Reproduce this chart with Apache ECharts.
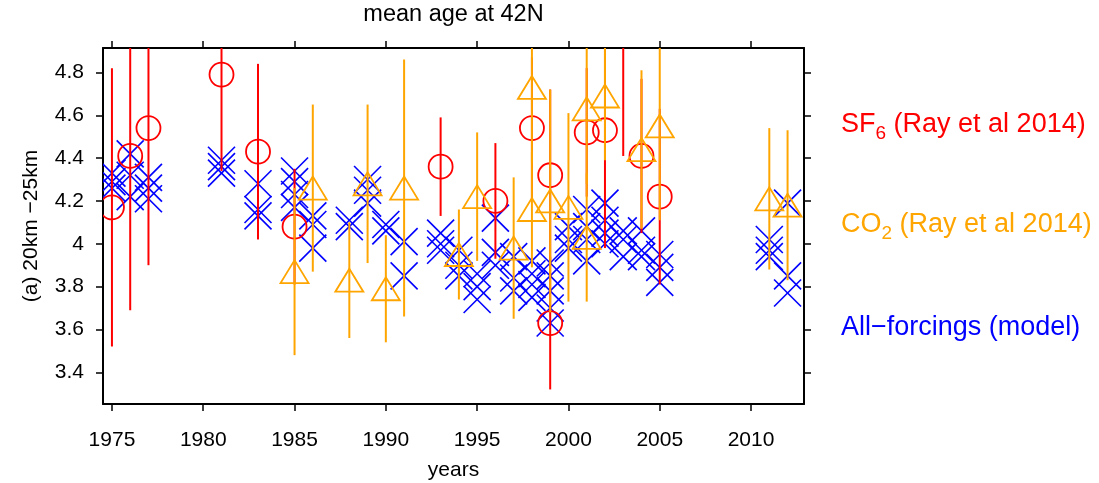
<!DOCTYPE html>
<html>
<head>
<meta charset="utf-8">
<script src="https://cdn.jsdelivr.net/npm/echarts@6/dist/echarts.min.js"></script>
<style>
  html, body { margin: 0; padding: 0; background: #fff; }
  #main { width: 1099px; height: 483px; }
</style>
</head>
<body>
<div id="main"></div>
<script>
// SF6 (Ray et al 2014): year, mean age, half error bar
const sf6Year = [1975, 1976, 1977, 1981, 1983, 1985, 1993, 1996, 1998, 1999, 1999, 2001, 2002, 2003, 2004, 2005];
const sf6Age  = [4.17, 4.41, 4.54, 4.79, 4.43, 4.08, 4.36, 4.20, 4.54, 4.32, 3.63, 4.52, 4.53, 4.97, 4.41, 4.22];
const sf6Err  = [0.65, 0.72, 0.64, 0.45, 0.41, 0.27, 0.23, 0.27, 0.33, 0.40, 0.31, 0.30, 0.55, 0.56, 0.36, 0.41];

// CO2 (Ray et al 2014)
const co2Year = [1985, 1986, 1988, 1989, 1990, 1991, 1994, 1995, 1997, 1998, 1998, 1999, 2000, 2001, 2001, 2002, 2004, 2005, 2011, 2012];
const co2Age  = [3.87, 4.26, 3.83, 4.28, 3.79, 4.26, 3.95, 4.22, 3.98, 4.73, 4.16, 4.20, 4.17, 4.63, 4.03, 4.69, 4.44, 4.55, 4.21, 4.18];
const co2Err  = [0.39, 0.39, 0.27, 0.37, 0.25, 0.60, 0.21, 0.30, 0.33, 0.35, 0.27, 0.52, 0.44, 0.35, 0.30, 0.30, 0.37, 0.44, 0.33, 0.35];

// All-forcings model members, one list per year
const modelYear = [1975, 1976, 1977, 1981, 1983, 1985, 1986, 1988, 1989, 1990, 1991, 1993, 1994,
                   1995, 1996, 1997, 1998, 1999, 2000, 2001, 2002, 2003, 2004, 2005, 2011, 2012];
const modelAge = [
  [4.33, 4.29, 4.26],
  [4.42, 4.32, 4.22],
  [4.31, 4.26, 4.21],
  [4.39, 4.36, 4.33],
  [4.28, 4.16, 4.13],
  [4.34, 4.29, 4.23, 4.17],
  [4.13, 4.09, 3.98],
  [4.11, 4.08],
  [4.30, 4.25, 4.19],
  [4.09, 4.06],
  [4.01, 3.85],
  [4.05, 4.00, 3.97],
  [3.97, 3.90, 3.85],
  [3.86, 3.80, 3.74],
  [4.12, 3.96, 3.90],
  [3.94, 3.84, 3.78],
  [3.92, 3.86, 3.81, 3.75],
  [3.91, 3.85, 3.78, 3.70, 3.63],
  [4.08, 4.02, 3.98],
  [4.16, 4.08, 4.02, 3.92],
  [4.19, 4.11, 4.05, 4.00],
  [4.06, 4.02, 3.94],
  [4.06, 3.97, 3.94],
  [3.95, 3.89, 3.82],
  [4.02, 3.97, 3.94],
  [4.19, 3.85, 3.77]
];

const xTicks = [1975, 1980, 1985, 1990, 1995, 2000, 2005, 2010];
const yTicks = [3.4, 3.6, 3.8, 4, 4.2, 4.4, 4.6, 4.8];

const RED = '#ff0000', ORANGE = '#ffa500', BLUE = '#0000ff';
const FONT = '"Liberation Sans", Arial, sans-serif';

const modelData = [];
modelYear.forEach((y, i) => modelAge[i].forEach(v => modelData.push([y, v])));
const sf6Data = sf6Year.map((y, i) => [y, sf6Age[i], sf6Age[i] - sf6Err[i], sf6Age[i] + sf6Err[i]]);
const co2Data = co2Year.map((y, i) => [y, co2Age[i], co2Age[i] - co2Err[i], co2Age[i] + co2Err[i]]);

function errBar(color, width) {
  return function (params, api) {
    const r = params.coordSys;
    const p1 = api.coord([api.value(0), api.value(2)]);
    const p2 = api.coord([api.value(0), api.value(3)]);
    const top = Math.max(r.y, Math.min(p1[1], p2[1]));
    const bot = Math.min(r.y + r.height, Math.max(p1[1], p2[1]));
    if (bot <= top) return null;
    return {
      type: 'line',
      shape: { x1: p1[0], y1: top, x2: p1[0], y2: bot },
      style: { stroke: color, lineWidth: width }
    };
  };
}

function inside(params, p) {
  const r = params.coordSys;
  return p[1] >= r.y - 2 && p[1] <= r.y + r.height + 2;
}

function crossMark(params, api) {
  const p = api.coord([api.value(0), api.value(1)]);
  const h = 13.5;
  return {
    type: 'group',
    children: [
      { type: 'line', shape: { x1: p[0] - h, y1: p[1] - h, x2: p[0] + h, y2: p[1] + h }, style: { stroke: BLUE, lineWidth: 1.6 } },
      { type: 'line', shape: { x1: p[0] - h, y1: p[1] + h, x2: p[0] + h, y2: p[1] - h }, style: { stroke: BLUE, lineWidth: 1.6 } }
    ]
  };
}

function circleMark(params, api) {
  const p = api.coord([api.value(0), api.value(1)]);
  if (!inside(params, p)) return null;
  return {
    type: 'circle',
    shape: { cx: p[0], cy: p[1], r: 12 },
    style: { fill: 'none', stroke: RED, lineWidth: 1.8 }
  };
}

function triangleMark(params, api) {
  const p = api.coord([api.value(0), api.value(1)]);
  if (!inside(params, p)) return null;
  return {
    type: 'polygon',
    shape: { points: [[p[0], p[1] - 11.5], [p[0] - 14, p[1] + 11.5], [p[0] + 14, p[1] + 11.5]] },
    style: { fill: 'none', stroke: ORANGE, lineWidth: 1.8 }
  };
}

// legend texts with subscripts, placed by measured width
const ctx = document.createElement('canvas').getContext('2d');
function legendText(x, y, parts, color) {
  const out = [];
  let cx = x;
  parts.forEach(([t, sub]) => {
    const size = sub ? 19 : 27;
    ctx.font = size + 'px ' + FONT;
    out.push({
      type: 'text', x: cx, y: sub ? y + 9 : y,
      style: { text: t, fill: color, font: size + 'px ' + FONT, textVerticalAlign: 'middle' }
    });
    cx += ctx.measureText(t).width;
  });
  return out;
}

const chart = echarts.init(document.getElementById('main'));

const xCommon = {
  type: 'value', min: 1974.51, max: 2012.9,
  axisLine: { show: true, onZero: false, lineStyle: { color: '#000', width: 2 } },
  axisTick: { show: true, inside: false, length: 7, customValues: xTicks, lineStyle: { color: '#000', width: 1.5 } },
  splitLine: { show: false }
};
const yCommon = {
  type: 'value', min: 3.252, max: 4.914,
  axisLine: { show: true, onZero: false, lineStyle: { color: '#000', width: 2 } },
  axisTick: { show: true, inside: false, length: 7, customValues: yTicks, lineStyle: { color: '#000', width: 1.5 } },
  splitLine: { show: false }
};

chart.setOption({
  animation: false,
  grid: { left: 103, top: 48, right: 295, bottom: 79, containLabel: false, outerBoundsMode: 'none' },
  xAxis: [
    Object.assign({}, xCommon, {
      position: 'bottom',
      name: 'years', nameLocation: 'middle', nameGap: 56,
      nameTextStyle: { fontFamily: FONT, fontSize: 21, color: '#000' },
      axisLabel: { customValues: xTicks, margin: 26, fontFamily: FONT, fontSize: 21, color: '#000',
        formatter: v => String(Math.round(v)) }
    }),
    Object.assign({}, xCommon, { position: 'top', axisLabel: { show: false } })
  ],
  yAxis: [
    Object.assign({}, yCommon, {
      position: 'left',
      name: '(a) 20km \u221225km', nameLocation: 'middle', nameGap: 61,
      nameTextStyle: { fontFamily: FONT, fontSize: 21, color: '#000' },
      axisLabel: { customValues: yTicks, margin: 19, fontFamily: FONT, fontSize: 21, color: '#000',
        formatter: v => String(+v.toFixed(1)) }
    }),
    Object.assign({}, yCommon, { position: 'right', axisLabel: { show: false } })
  ],
  graphic: [
    { type: 'text', x: 453.5, y: 15,
      style: { text: 'mean age at 42N', fill: '#000', font: '23.5px ' + FONT, textAlign: 'center', textVerticalAlign: 'middle' } }
  ].concat(
    legendText(841, 125, [['SF', false], ['6', true], [' (Ray et al 2014)', false]], RED),
    legendText(841, 225, [['CO', false], ['2', true], [' (Ray et al 2014)', false]], ORANGE),
    legendText(841, 328, [['All\u2212forcings (model)', false]], BLUE)
  ),
  series: [
    { name: 'model', type: 'custom', renderItem: crossMark, data: modelData, clip: true, z: 2 },
    { name: 'sf6 err', type: 'custom', renderItem: errBar(RED, 2), data: sf6Data, clip: true, z: 3 },
    { name: 'sf6', type: 'custom', renderItem: circleMark, data: sf6Data, clip: true, z: 3 },
    { name: 'co2 err', type: 'custom', renderItem: errBar(ORANGE, 2), data: co2Data, clip: true, z: 4 },
    { name: 'co2', type: 'custom', renderItem: triangleMark, data: co2Data, clip: true, z: 4 }
  ]
});
</script>
</body>
</html>
